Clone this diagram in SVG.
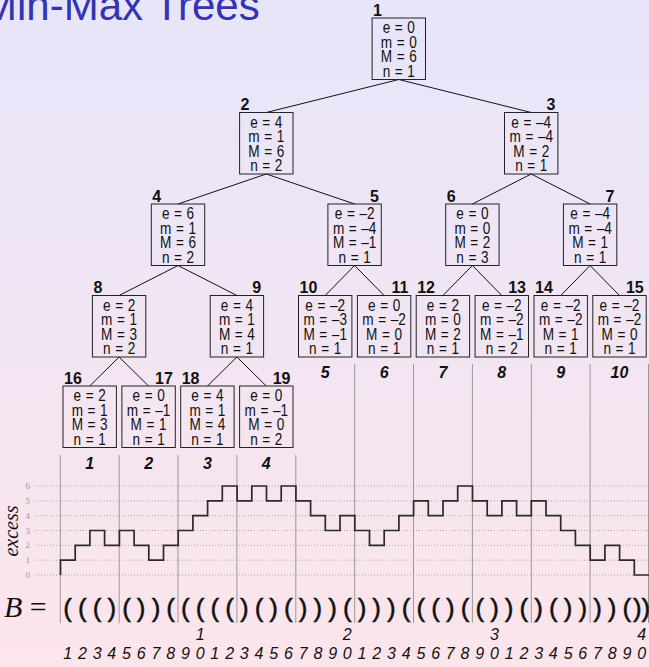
<svg xmlns="http://www.w3.org/2000/svg" width="649" height="667" viewBox="0 0 649 667">
  <defs>
    <linearGradient id="bg" x1="0" y1="0" x2="0" y2="1">
      <stop offset="0" stop-color="#E7E5FA"/>
      <stop offset="1" stop-color="#FCE5EB"/>
    </linearGradient>
    <style>
      .bx{fill:none;stroke:#222;stroke-width:1}
      .v{font-family:"Liberation Sans",Arial,sans-serif;font-size:17px;word-spacing:1px;fill:#111;text-anchor:middle;transform-box:fill-box;transform-origin:center;transform:scaleX(.8)}
      .lb{font-family:"Liberation Sans",Arial,sans-serif;font-size:16px;font-weight:bold;fill:#111}
      .r{text-anchor:end}
      .blk{font-family:"Liberation Sans",Arial,sans-serif;font-size:16px;font-weight:bold;font-style:italic;fill:#111;text-anchor:middle}
      .div line{stroke:#999;stroke-width:1}
      .grid line{stroke:#a8a8a8;stroke-width:1;stroke-dasharray:1 2}
      .yl{font-family:"Liberation Serif","Times New Roman",serif;font-size:9px;fill:#999;text-anchor:end}
      .idx{font-family:"Liberation Sans",Arial,sans-serif;font-size:16px;font-style:italic;fill:#111;text-anchor:middle}
    </style>
  </defs>

  <rect width="649" height="667" fill="url(#bg)"/>

  <!-- frame title -->
  <text x="-18" y="20" font-family="'Liberation Sans',Arial,sans-serif" font-size="42" fill="#3333B3">Min-Max Trees</text>

  <!-- tree edges -->
  <g id="edges" stroke="#111" stroke-width="1">
    <line x1="398.8" y1="79.5" x2="266.3" y2="112.5"/>
    <line x1="398.8" y1="79.5" x2="531.2" y2="112.5"/>
    <line x1="266.3" y1="174" x2="178" y2="204"/>
    <line x1="266.3" y1="174" x2="354.6" y2="204"/>
    <line x1="531.2" y1="174" x2="472.4" y2="204"/>
    <line x1="531.2" y1="174" x2="590.1" y2="204"/>
    <line x1="178" y1="265.5" x2="119.1" y2="295.5"/>
    <line x1="178" y1="265.5" x2="236.9" y2="295.5"/>
    <line x1="354.6" y1="265.5" x2="325.2" y2="295.5"/>
    <line x1="354.6" y1="265.5" x2="384.1" y2="295.5"/>
    <line x1="472.4" y1="265.5" x2="442.9" y2="295.5"/>
    <line x1="472.4" y1="265.5" x2="501.8" y2="295.5"/>
    <line x1="590.1" y1="265.5" x2="560.7" y2="295.5"/>
    <line x1="590.1" y1="265.5" x2="619.5" y2="295.5"/>
    <line x1="119.1" y1="357" x2="89.7" y2="386"/>
    <line x1="119.1" y1="357" x2="148.6" y2="386"/>
    <line x1="236.9" y1="357" x2="207.4" y2="386"/>
    <line x1="236.9" y1="357" x2="266.3" y2="386"/>
  </g>

  <!-- level 1 -->
  <g id="n1">
    <rect class="bx" x="372.1" y="18" width="53.4" height="61.5"/>
    <text class="lb" x="373" y="15.5">1</text>
    <text class="v" y="33.5"><tspan x="398.8">e = 0</tspan><tspan x="398.8" dy="14.5">m = 0</tspan><tspan x="398.8" dy="14.5">M = 6</tspan><tspan x="398.8" dy="14.5">n = 1</tspan></text>
  </g>

  <!-- level 2 -->
  <g id="n2">
    <rect class="bx" x="239.6" y="112.5" width="53.4" height="61.5"/>
    <text class="lb" x="240.6" y="110">2</text>
    <text class="v" y="128"><tspan x="266.3">e = 4</tspan><tspan x="266.3" dy="14.5">m = 1</tspan><tspan x="266.3" dy="14.5">M = 6</tspan><tspan x="266.3" dy="14.5">n = 2</tspan></text>
  </g>
  <g id="n3">
    <rect class="bx" x="504.5" y="112.5" width="53.4" height="61.5"/>
    <text class="lb r" x="555.4" y="110">3</text>
    <text class="v" y="128"><tspan x="531.2">e = –4</tspan><tspan x="531.2" dy="14.5">m = –4</tspan><tspan x="531.2" dy="14.5">M = 2</tspan><tspan x="531.2" dy="14.5">n = 1</tspan></text>
  </g>

  <!-- level 3 -->
  <g id="n4">
    <rect class="bx" x="151.3" y="204" width="53.4" height="61.5"/>
    <text class="lb" x="152.3" y="201.5">4</text>
    <text class="v" y="219.5"><tspan x="178">e = 6</tspan><tspan x="178" dy="14.5">m = 1</tspan><tspan x="178" dy="14.5">M = 6</tspan><tspan x="178" dy="14.5">n = 2</tspan></text>
  </g>
  <g id="n5">
    <rect class="bx" x="327.9" y="204" width="53.4" height="61.5"/>
    <text class="lb r" x="378.8" y="201.5">5</text>
    <text class="v" y="219.5"><tspan x="354.6">e = –2</tspan><tspan x="354.6" dy="14.5">m = –4</tspan><tspan x="354.6" dy="14.5">M = –1</tspan><tspan x="354.6" dy="14.5">n = 1</tspan></text>
  </g>
  <g id="n6">
    <rect class="bx" x="445.7" y="204" width="53.4" height="61.5"/>
    <text class="lb" x="446.7" y="201.5">6</text>
    <text class="v" y="219.5"><tspan x="472.4">e = 0</tspan><tspan x="472.4" dy="14.5">m = 0</tspan><tspan x="472.4" dy="14.5">M = 2</tspan><tspan x="472.4" dy="14.5">n = 3</tspan></text>
  </g>
  <g id="n7">
    <rect class="bx" x="563.4" y="204" width="53.4" height="61.5"/>
    <text class="lb r" x="614.3" y="201.5">7</text>
    <text class="v" y="219.5"><tspan x="590.1">e = –4</tspan><tspan x="590.1" dy="14.5">m = –4</tspan><tspan x="590.1" dy="14.5">M = 1</tspan><tspan x="590.1" dy="14.5">n = 1</tspan></text>
  </g>

  <!-- level 4 -->
  <g id="n8">
    <rect class="bx" x="92.4" y="295.5" width="53.4" height="61.5"/>
    <text class="lb" x="93.4" y="293">8</text>
    <text class="v" y="311"><tspan x="119.1">e = 2</tspan><tspan x="119.1" dy="14.5">m = 1</tspan><tspan x="119.1" dy="14.5">M = 3</tspan><tspan x="119.1" dy="14.5">n = 2</tspan></text>
  </g>
  <g id="n9">
    <rect class="bx" x="210.2" y="295.5" width="53.4" height="61.5"/>
    <text class="lb r" x="261.1" y="293">9</text>
    <text class="v" y="311"><tspan x="236.9">e = 4</tspan><tspan x="236.9" dy="14.5">m = 1</tspan><tspan x="236.9" dy="14.5">M = 4</tspan><tspan x="236.9" dy="14.5">n = 1</tspan></text>
  </g>
  <g id="n10">
    <rect class="bx" x="298.5" y="295.5" width="53.4" height="61.5"/>
    <text class="lb" x="299.5" y="293">10</text>
    <text class="v" y="311"><tspan x="325.2">e = –2</tspan><tspan x="325.2" dy="14.5">m = –3</tspan><tspan x="325.2" dy="14.5">M = –1</tspan><tspan x="325.2" dy="14.5">n = 1</tspan></text>
  </g>
  <g id="n11">
    <rect class="bx" x="357.4" y="295.5" width="53.4" height="61.5"/>
    <text class="lb r" x="408.3" y="293">11</text>
    <text class="v" y="311"><tspan x="384.1">e = 0</tspan><tspan x="384.1" dy="14.5">m = –2</tspan><tspan x="384.1" dy="14.5">M = 0</tspan><tspan x="384.1" dy="14.5">n = 1</tspan></text>
  </g>
  <g id="n12">
    <rect class="bx" x="416.2" y="295.5" width="53.4" height="61.5"/>
    <text class="lb" x="417.2" y="293">12</text>
    <text class="v" y="311"><tspan x="442.9">e = 2</tspan><tspan x="442.9" dy="14.5">m = 0</tspan><tspan x="442.9" dy="14.5">M = 2</tspan><tspan x="442.9" dy="14.5">n = 1</tspan></text>
  </g>
  <g id="n13">
    <rect class="bx" x="475.1" y="295.5" width="53.4" height="61.5"/>
    <text class="lb r" x="526" y="293">13</text>
    <text class="v" y="311"><tspan x="501.8">e = –2</tspan><tspan x="501.8" dy="14.5">m = –2</tspan><tspan x="501.8" dy="14.5">M = –1</tspan><tspan x="501.8" dy="14.5">n = 2</tspan></text>
  </g>
  <g id="n14">
    <rect class="bx" x="534" y="295.5" width="53.4" height="61.5"/>
    <text class="lb" x="535" y="293">14</text>
    <text class="v" y="311"><tspan x="560.7">e = –2</tspan><tspan x="560.7" dy="14.5">m = –2</tspan><tspan x="560.7" dy="14.5">M = 1</tspan><tspan x="560.7" dy="14.5">n = 1</tspan></text>
  </g>
  <g id="n15">
    <rect class="bx" x="592.8" y="295.5" width="53.4" height="61.5"/>
    <text class="lb r" x="643.7" y="293">15</text>
    <text class="v" y="311"><tspan x="619.5">e = –2</tspan><tspan x="619.5" dy="14.5">m = –2</tspan><tspan x="619.5" dy="14.5">M = 0</tspan><tspan x="619.5" dy="14.5">n = 1</tspan></text>
  </g>

  <!-- level 5 -->
  <g id="n16">
    <rect class="bx" x="63" y="386" width="53.4" height="61.5"/>
    <text class="lb" x="64" y="383.5">16</text>
    <text class="v" y="401.5"><tspan x="89.7">e = 2</tspan><tspan x="89.7" dy="14.5">m = 1</tspan><tspan x="89.7" dy="14.5">M = 3</tspan><tspan x="89.7" dy="14.5">n = 1</tspan></text>
  </g>
  <g id="n17">
    <rect class="bx" x="121.9" y="386" width="53.4" height="61.5"/>
    <text class="lb r" x="172.8" y="383.5">17</text>
    <text class="v" y="401.5"><tspan x="148.6">e = 0</tspan><tspan x="148.6" dy="14.5">m = –1</tspan><tspan x="148.6" dy="14.5">M = 1</tspan><tspan x="148.6" dy="14.5">n = 1</tspan></text>
  </g>
  <g id="n18">
    <rect class="bx" x="180.7" y="386" width="53.4" height="61.5"/>
    <text class="lb" x="181.7" y="383.5">18</text>
    <text class="v" y="401.5"><tspan x="207.4">e = 4</tspan><tspan x="207.4" dy="14.5">m = 1</tspan><tspan x="207.4" dy="14.5">M = 4</tspan><tspan x="207.4" dy="14.5">n = 1</tspan></text>
  </g>
  <g id="n19">
    <rect class="bx" x="239.6" y="386" width="53.4" height="61.5"/>
    <text class="lb r" x="290.5" y="383.5">19</text>
    <text class="v" y="401.5"><tspan x="266.3">e = 0</tspan><tspan x="266.3" dy="14.5">m = –1</tspan><tspan x="266.3" dy="14.5">M = 0</tspan><tspan x="266.3" dy="14.5">n = 2</tspan></text>
  </g>

  <!-- block numbers -->
  <g id="blocks">
    <text class="blk" x="89.7" y="469">1</text>
    <text class="blk" x="148.6" y="469">2</text>
    <text class="blk" x="207.4" y="469">3</text>
    <text class="blk" x="266.3" y="469">4</text>
    <text class="blk" x="325.2" y="378">5</text>
    <text class="blk" x="384.1" y="378">6</text>
    <text class="blk" x="442.9" y="378">7</text>
    <text class="blk" x="501.8" y="378">8</text>
    <text class="blk" x="560.7" y="378">9</text>
    <text class="blk" x="619.5" y="378">10</text>
  </g>

  <!-- excess grid -->
  <g class="grid">
    <line x1="35" y1="575" x2="649" y2="575"/>
    <line x1="35" y1="560.2" x2="649" y2="560.2"/>
    <line x1="35" y1="545.3" x2="649" y2="545.3"/>
    <line x1="35" y1="530.5" x2="649" y2="530.5"/>
    <line x1="35" y1="515.7" x2="649" y2="515.7"/>
    <line x1="35" y1="500.9" x2="649" y2="500.9"/>
    <line x1="35" y1="486" x2="649" y2="486"/>
  </g>
  <g id="ylabels">
    <text class="yl" x="30" y="578">0</text>
    <text class="yl" x="30" y="563.2">1</text>
    <text class="yl" x="30" y="548.3">2</text>
    <text class="yl" x="30" y="533.5">3</text>
    <text class="yl" x="30" y="518.7">4</text>
    <text class="yl" x="30" y="503.9">5</text>
    <text class="yl" x="30" y="489">6</text>
  </g>
  <text transform="translate(18 531) rotate(-90)" font-family="'Liberation Serif','Times New Roman',serif" font-size="20" font-style="italic" fill="#111" text-anchor="middle">excess</text>

  <!-- block dividers -->
  <g class="div">
    <line x1="60.3" y1="455" x2="60.3" y2="623"/>
    <line x1="119.2" y1="455" x2="119.2" y2="623"/>
    <line x1="178" y1="455" x2="178" y2="623"/>
    <line x1="236.9" y1="455" x2="236.9" y2="623"/>
    <line x1="295.8" y1="455" x2="295.8" y2="623"/>
    <line x1="354.7" y1="364" x2="354.7" y2="623"/>
    <line x1="413.5" y1="364" x2="413.5" y2="623"/>
    <line x1="472.4" y1="364" x2="472.4" y2="623"/>
    <line x1="531.3" y1="364" x2="531.3" y2="623"/>
    <line x1="590.1" y1="364" x2="590.1" y2="623"/>
    <line x1="648.5" y1="364" x2="648.5" y2="623"/>
  </g>

  <!-- excess curve -->
  <path fill="none" stroke="#2a2a2a" stroke-width="1.7" d="M60.5 575 V560.2 H75.2 V545.3 H89.9 V530.5 H104.6 V545.3 H119.4 V530.5 H134.1 V545.3 H148.8 V560.2 H163.5 V545.3 H178.2 V530.5 H192.9 V515.7 H207.6 V500.9 H222.3 V486 H237.1 V500.9 H251.8 V486 H266.5 V500.9 H281.2 V486 H295.9 V500.9 H310.6 V515.7 H325.3 V530.5 H340 V515.7 H354.8 V530.5 H369.5 V545.3 H384.2 V530.5 H398.9 V515.7 H413.6 V500.9 H428.3 V515.7 H443 V500.9 H457.7 V486 H472.5 V500.9 H487.2 V515.7 H501.9 V500.9 H516.6 V515.7 H531.3 V500.9 H546 V515.7 H560.7 V530.5 H575.4 V545.3 H590.2 V560.2 H604.9 V545.3 H619.6 V560.2 H634.3 V575 H649"/>

  <!-- balanced parentheses sequence -->
  <text x="4" y="617" font-family="'Liberation Serif','Times New Roman',serif" font-size="30" fill="#111"><tspan font-style="italic">B</tspan> =</text>
  <text font-family="'Liberation Sans',Arial,sans-serif" font-size="26" fill="#111" stroke="#111" stroke-width="0.5" text-anchor="middle" y="617" x="67.7 82.4 97.1 111.8 126.5 141.2 156 170.7 185.4 200.1 214.8 229.6 244.3 259 273.7 288.4 303.1 317.9 332.6 347.3 362 376.7 391.4 406.2 420.9 435.6 450.3 465 479.8 494.5 509.2 523.9 538.6 553.3 568.1 582.8 597.5 612.2 626.9 641.6">((()())((((()()()))()))((()(())()())))())</text>

  <!-- position indices -->
  <text class="idx" y="640" x="200.1 347.3 494.5 641.6">1234</text>
  <text class="idx" y="659" x="67.7 82.4 97.1 111.8 126.5 141.2 156 170.7 185.4 200.1 214.8 229.6 244.3 259 273.7 288.4 303.1 317.9 332.6 347.3 362 376.7 391.4 406.2 420.9 435.6 450.3 465 479.8 494.5 509.2 523.9 538.6 553.3 568.1 582.8 597.5 612.2 626.9 641.6">1234567890123456789012345678901234567890</text>
</svg>
